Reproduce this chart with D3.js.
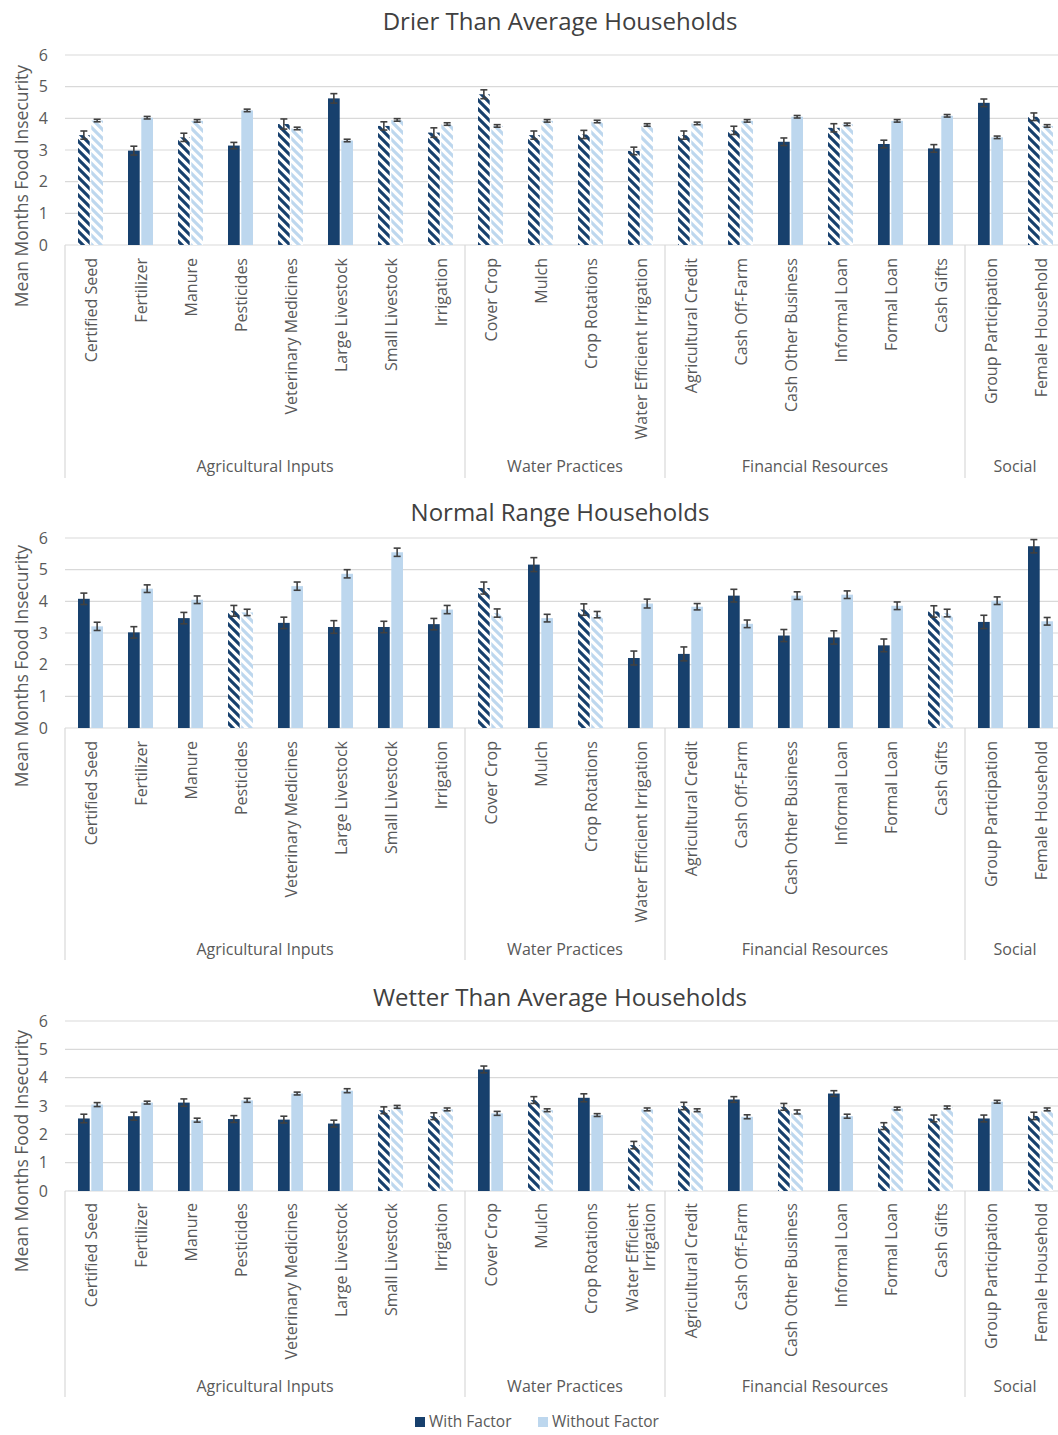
<!DOCTYPE html>
<html><head><meta charset="utf-8">
<script src="https://cdn.jsdelivr.net/npm/d3@7"></script>
<style>
body{margin:0;background:#fff;}
svg{display:block;font-family:"Open Sans",sans-serif;}
</style></head>
<body><svg id="chart" width="1058" height="1435"></svg>
<script>
const categories = ["Certified Seed","Fertilizer","Manure","Pesticides","Veterinary Medicines","Large Livestock","Small Livestock","Irrigation","Cover Crop","Mulch","Crop Rotations","Water Efficient Irrigation","Agricultural Credit","Cash Off-Farm","Cash Other Business","Informal Loan","Formal Loan","Cash Gifts","Group Participation","Female Household"];
const groupNames = ["Agricultural Inputs","Water Practices","Financial Resources","Social"];
const groupSizes = [8,4,6,2];
const seriesNames = ["With Factor","Without Factor"];
const yTicks = [0,1,2,3,4,5,6];
const panelTitles = ["Drier Than Average Households","Normal Range Households","Wetter Than Average Households"];
const yTitle = "Mean Months Food Insecurity";

const drierWith    = [3.47,2.98,3.40,3.14,3.82,4.63,3.76,3.55, 4.76,3.47,3.49,2.97, 3.47,3.62,3.26,3.70,3.19,3.05, 4.49,4.05];
const drierWithout = [3.93,4.02,3.92,4.25,3.68,3.30,3.95,3.82, 3.76,3.92,3.90,3.79, 3.84,3.92,4.05,3.81,3.92,4.08, 3.40,3.76];
const drierErrWith = [0.13,0.14,0.13,0.10,0.16,0.15,0.13,0.15, 0.14,0.13,0.13,0.12, 0.13,0.13,0.12,0.13,0.12,0.12, 0.12,0.12];
const drierErrWithout = [0.04,0.04,0.04,0.04,0.04,0.04,0.04,0.04, 0.04,0.04,0.04,0.04, 0.04,0.04,0.04,0.04,0.04,0.04, 0.04,0.04];
const drierSig = [0,1,0,1,0,1,0,0, 0,0,0,0, 0,0,1,0,1,1, 1,0];

const normalWith    = [4.08,3.02,3.47,3.70,3.32,3.19,3.19,3.28, 4.42,5.16,3.74,2.21, 2.34,4.18,2.92,2.86,2.61,3.68, 3.35,5.74];
const normalWithout = [3.21,4.40,4.05,3.65,4.48,4.87,5.55,3.74, 3.63,3.47,3.58,3.93, 3.83,3.29,4.18,4.21,3.86,3.63, 4.02,3.37];
const normalErrWith = [0.18,0.18,0.18,0.17,0.18,0.20,0.18,0.18, 0.19,0.22,0.18,0.22, 0.22,0.20,0.19,0.21,0.20,0.18, 0.21,0.21];
const normalErrWithout = [0.13,0.12,0.12,0.10,0.13,0.13,0.13,0.13, 0.13,0.12,0.10,0.14, 0.10,0.12,0.12,0.12,0.12,0.12, 0.12,0.12];
const normalSig = [1,1,1,0,1,1,1,1, 0,1,0,1, 1,1,1,1,1,0, 1,1];

const wetterWith    = [2.56,2.64,3.12,2.54,2.52,2.38,2.85,2.64, 4.29,3.21,3.29,1.62, 3.00,3.23,2.97,3.44,2.29,2.56, 2.56,2.65];
const wetterWithout = [3.05,3.12,2.50,3.20,3.44,3.54,2.97,2.88, 2.74,2.85,2.68,2.88, 2.85,2.62,2.79,2.64,2.91,2.95, 3.15,2.88];
const wetterErrWith = [0.15,0.14,0.13,0.12,0.12,0.12,0.12,0.12, 0.12,0.12,0.14,0.13, 0.13,0.10,0.12,0.10,0.12,0.12, 0.12,0.13];
const wetterErrWithout = [0.07,0.05,0.07,0.07,0.05,0.07,0.05,0.05, 0.07,0.05,0.05,0.05, 0.05,0.07,0.07,0.07,0.05,0.05, 0.05,0.05];
const wetterSig = [1,1,1,1,1,1,0,0, 1,0,1,0, 0,1,0,1,0,0, 1,0];

const panelsData = [
  {w:drierWith, wo:drierWithout, ew:drierErrWith, ewo:drierErrWithout, sig:drierSig},
  {w:normalWith, wo:normalWithout, ew:normalErrWith, ewo:normalErrWithout, sig:normalSig},
  {w:wetterWith, wo:wetterWithout, ew:wetterErrWith, ewo:wetterErrWithout, sig:wetterSig}
];
// layout
const layouts = [
  {titleY:30, top:55, zero:245, ytitle:186, labelTop:258, groupY:466, boxBottom:478, wrap:false},
  {titleY:521, top:538, zero:728, ytitle:666, labelTop:741, groupY:949, boxBottom:960, wrap:false},
  {titleY:1006, top:1021, zero:1191, ytitle:1151, labelTop:1203, groupY:1386, boxBottom:1397, wrap:true}
];
const DARK = "#17406d", LIGHT = "#bdd7ee", TXT = "#595959", GRID = "#d9d9d9";
const LABEL_FS = 16;

const svg = d3.select("#chart");
const defs = svg.append("defs");
[["hatchDark",DARK],["hatchLight",LIGHT]].forEach(([id,c])=>{
  const p = defs.append("pattern").attr("id",id).attr("patternUnits","userSpaceOnUse")
    .attr("width",9).attr("height",9);
  p.append("rect").attr("width",9).attr("height",9).attr("fill","#fff");
  p.append("path").attr("d","M-2,-2 L11,11 M-2,7 L2,11 M7,-2 L11,2").attr("stroke",c).attr("stroke-width",3.2);
});

const x = d3.scaleBand().domain(categories).range([65,1065]).paddingInner(0).paddingOuter(0);
const xs = d3.scaleBand().domain(seriesNames).range([13,38]).paddingInner(0.12);

layouts.forEach((L,pi)=>{
  const D = panelsData[pi];
  const g = svg.append("g");
  const y = d3.scaleLinear().domain([0,6]).range([L.zero,L.top]);
  // title
  g.append("text").attr("x",560).attr("y",L.titleY).attr("text-anchor","middle")
    .attr("fill","#404040").attr("font-size",24).text(panelTitles[pi]);
  // y title
  g.append("text").attr("transform",`translate(22,${L.ytitle}) rotate(-90)`).attr("text-anchor","middle")
    .attr("dy","0.35em").attr("fill",TXT).attr("font-size",17.5).text(yTitle);
  // gridlines
  g.selectAll(".grid").data(yTicks).join("line").attr("x1",65).attr("x2",1058)
    .attr("y1",d=>y(d)).attr("y2",d=>y(d)).attr("stroke",GRID).attr("stroke-width",1.2);
  const ax = g.append("g").attr("transform","translate(65,0)")
    .call(d3.axisLeft(y).tickValues(yTicks).tickFormat(d3.format("d")).tickSize(0).tickPadding(17));
  ax.select(".domain").remove();
  ax.selectAll("text").attr("fill",TXT).attr("font-size",16).attr("font-family","Open Sans");
  // category box
  let acc = 0;
  const bounds = [0];
  groupSizes.forEach(s=>{acc+=s; bounds.push(acc);});
  bounds.forEach((b,i)=>{
    const xx = b<categories.length ? x(categories[b]) : x(categories[categories.length-1])+x.bandwidth();
    g.append("line").attr("x1",xx).attr("x2",xx).attr("y1",L.zero).attr("y2",L.boxBottom)
      .attr("stroke",GRID).attr("stroke-width",1.2);
  });
  groupNames.forEach((gn,i)=>{
    const x0 = x(categories[bounds[i]]);
    const x1 = x(categories[bounds[i+1]-1])+x.bandwidth();
    g.append("text").attr("x",(x0+x1)/2).attr("y",L.groupY).attr("dy","0.35em").attr("text-anchor","middle")
      .attr("fill",TXT).attr("font-size",LABEL_FS).text(gn);
  });
  // category labels
  categories.forEach((c,i)=>{
    const cx = x(c)+x.bandwidth()/2+1;
    const t = g.append("text").attr("transform",`translate(${cx},${L.labelTop}) rotate(-90)`)
      .attr("text-anchor","end").attr("fill",TXT).attr("font-size",LABEL_FS);
    if (L.wrap && c==="Water Efficient Irrigation") {
      t.append("tspan").attr("x",0).attr("dy","-0.2em").text("Water Efficient");
      t.append("tspan").attr("x",0).attr("dy","1.05em").text("Irrigation");
    } else {
      t.attr("dy","0.35em").text(c);
    }
  });
  // bars
  const rows = categories.map((c,i)=>[
    {c, s:seriesNames[0], v:D.w[i], e:D.ew[i], sig:D.sig[i]},
    {c, s:seriesNames[1], v:D.wo[i], e:D.ewo[i], sig:D.sig[i]}
  ]).flat();
  g.selectAll(".bar").data(rows).join("rect")
    .attr("x",d=>x(d.c)+xs(d.s)).attr("width",xs.bandwidth())
    .attr("y",d=>y(d.v)).attr("height",d=>y(0)-y(d.v))
    .attr("fill",d=>{
      const dark = d.s===seriesNames[0];
      if (d.sig) return dark?DARK:LIGHT;
      return dark?"url(#hatchDark)":"url(#hatchLight)";
    });
  // error bars
  const eb = g.selectAll(".eb").data(rows).join("g").attr("stroke","#404040").attr("stroke-width",1.6);
  eb.append("line").attr("x1",d=>x(d.c)+xs(d.s)+xs.bandwidth()/2).attr("x2",d=>x(d.c)+xs(d.s)+xs.bandwidth()/2)
    .attr("y1",d=>y(d.v+d.e)).attr("y2",d=>y(d.v-d.e));
  [1,-1].forEach(sgn=>{
    eb.append("line").attr("x1",d=>x(d.c)+xs(d.s)+xs.bandwidth()/2-3.5).attr("x2",d=>x(d.c)+xs(d.s)+xs.bandwidth()/2+3.5)
      .attr("y1",d=>y(d.v+sgn*d.e)).attr("y2",d=>y(d.v+sgn*d.e));
  });
});

// legend
const lg = svg.append("g").attr("transform","translate(415,1422)");
const lx = [0,123];
seriesNames.forEach((s,i)=>{
  lg.append("rect").attr("x",lx[i]).attr("y",-5).attr("width",10).attr("height",10).attr("fill",i===0?DARK:LIGHT);
  lg.append("text").attr("x",lx[i]+14).attr("y",0).attr("dy","0.35em").attr("fill",TXT).attr("font-size",15.5).text(s);
});
</script></body></html>
